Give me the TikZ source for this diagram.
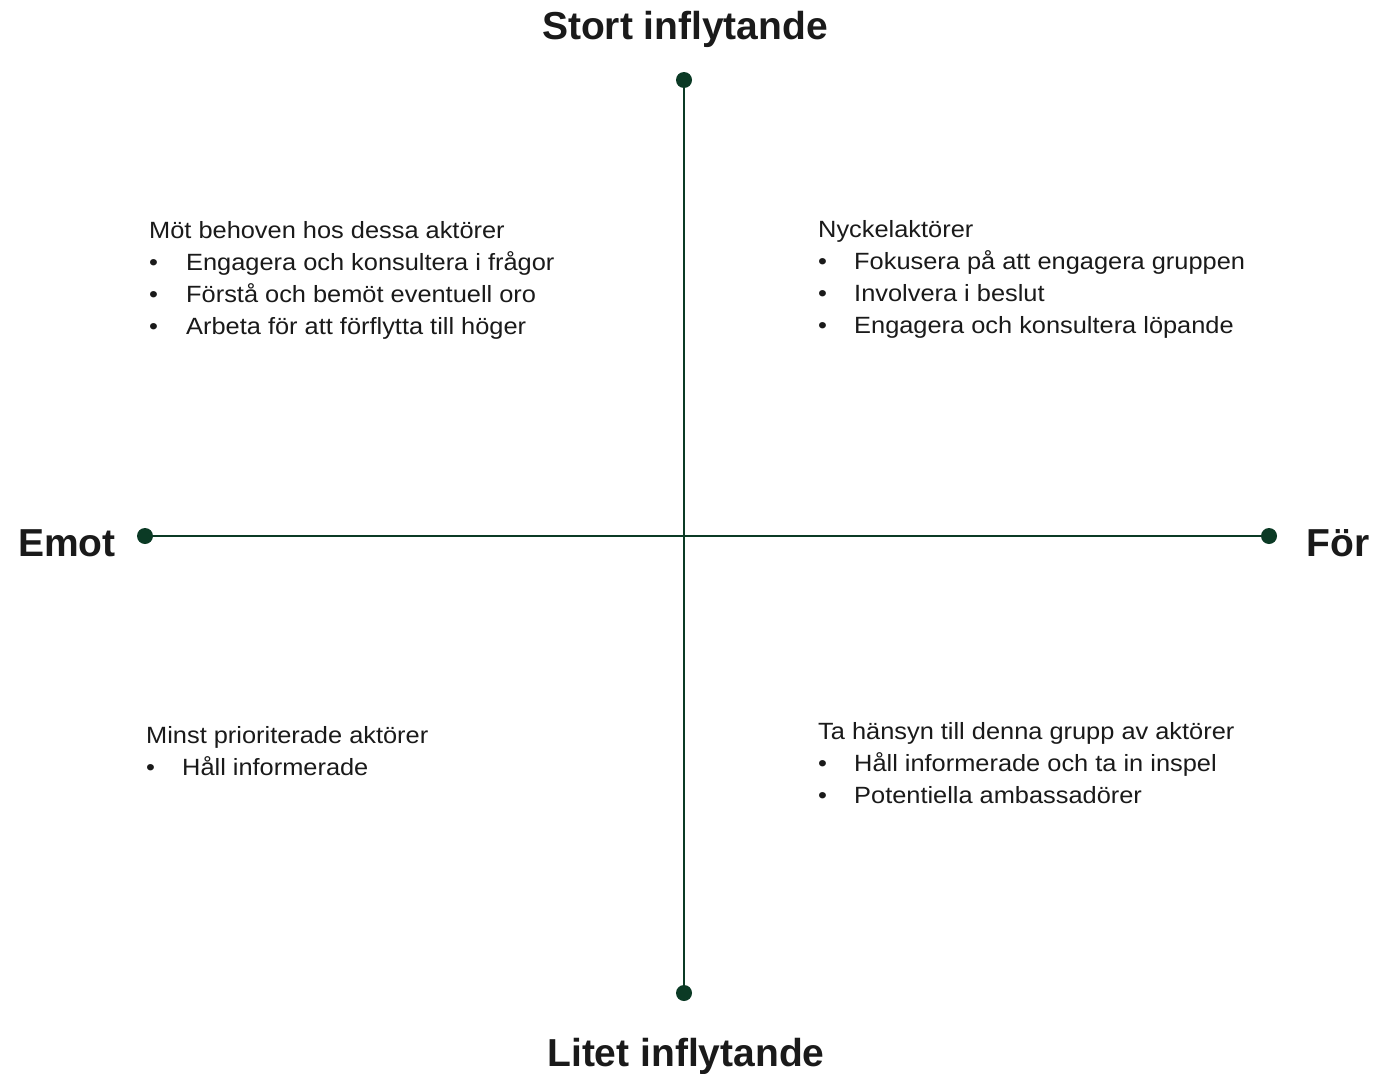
\documentclass[tikz,border=0pt]{standalone}
\usepackage{fontspec}
\setmainfont{Liberation Sans}
\newfontfamily\bodyfont[FakeStretch=1.08]{Liberation Sans}
\definecolor{axisgreen}{HTML}{0B3A25}
\definecolor{inktext}{HTML}{1A1A1A}
\begin{document}
\begin{tikzpicture}[x=1pt,y=-1pt,
  axisline/.style={draw=axisgreen,line width=1.4pt},
  enddot/.style={circle,fill=axisgreen,inner sep=0pt,minimum size=16pt},
  heading/.style={font=\fontsize{39}{45}\selectfont\bfseries,text=inktext,inner sep=0pt},
  bodyline/.style={font=\bodyfont\fontsize{23.5}{28}\selectfont,text=inktext,inner sep=0pt,anchor=base west},
  bulletmark/.style={font=\bodyfont\fontsize{23.5}{28}\selectfont,text=inktext,inner sep=0pt,anchor=base west}]
\useasboundingbox[fill=white] (0,0) rectangle (1394,1073);

% axis end points
\node[enddot] (top) at (684,80) {};
\node[enddot] (bottom) at (684,993) {};
\node[enddot] (left) at (145,536) {};
\node[enddot] (right) at (1269,536) {};
\draw[axisline] (top.center) -- (bottom.center);
\draw[axisline] (left.center) -- (right.center);

% axis labels
\node[heading,anchor=base] (hTop) at (685,40) {Stort inflytande};
\node[heading,anchor=base] (hBottom) at (686,1066) {Litet inflytande};
\node[heading,anchor=base] (hLeft) at (67,556) {Emot};
\node[heading,anchor=base] (hRight) at (1338,556) {För};

% upper left quadrant
\node[bodyline] (ulHead) at (149,238) {Möt behoven hos dessa aktörer};
\node[bulletmark] (ulB1) at (149,270) {•};
\node[bodyline] (ulT1) at (186,270) {Engagera och konsultera i frågor};
\node[bulletmark] (ulB2) at (149,302) {•};
\node[bodyline] (ulT2) at (186,302) {Förstå och bemöt eventuell oro};
\node[bulletmark] (ulB3) at (149,334) {•};
\node[bodyline] (ulT3) at (186,334) {Arbeta för att förflytta till höger};

% upper right quadrant
\node[bodyline] (urHead) at (818,237) {Nyckelaktörer};
\node[bulletmark] (urB1) at (818,269) {•};
\node[bodyline] (urT1) at (854,269) {Fokusera på att engagera gruppen};
\node[bulletmark] (urB2) at (818,301) {•};
\node[bodyline] (urT2) at (854,301) {Involvera i beslut};
\node[bulletmark] (urB3) at (818,333) {•};
\node[bodyline] (urT3) at (854,333) {Engagera och konsultera löpande};

% lower left quadrant
\node[bodyline] (llHead) at (146,743) {Minst prioriterade aktörer};
\node[bulletmark] (llB1) at (146,775) {•};
\node[bodyline] (llT1) at (182,775) {Håll informerade};

% lower right quadrant
\node[bodyline] (lrHead) at (818,739) {Ta hänsyn till denna grupp av aktörer};
\node[bulletmark] (lrB1) at (818,771) {•};
\node[bodyline] (lrT1) at (854,771) {Håll informerade och ta in inspel};
\node[bulletmark] (lrB2) at (818,803) {•};
\node[bodyline] (lrT2) at (854,803) {Potentiella ambassadörer};
\end{tikzpicture}
\end{document}
